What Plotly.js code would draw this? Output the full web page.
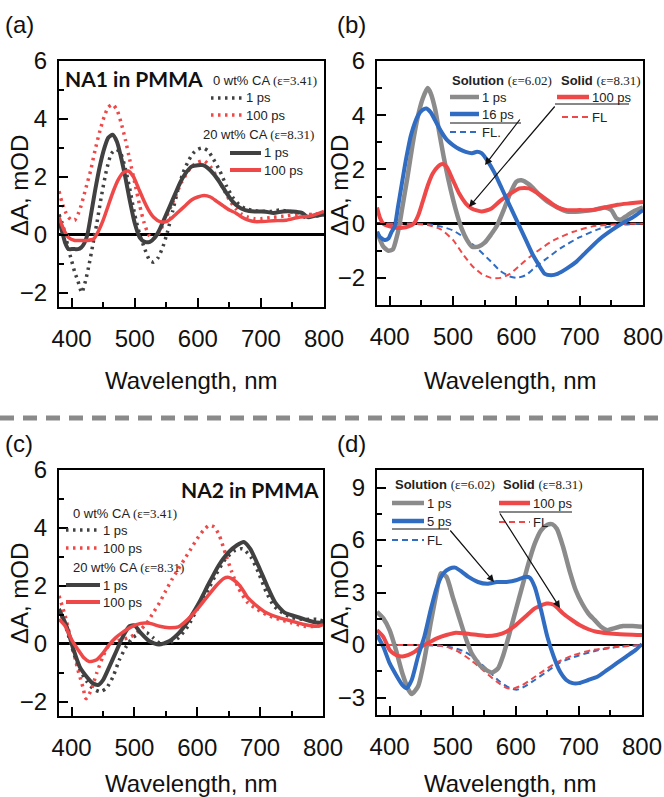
<!DOCTYPE html>
<html><head><meta charset="utf-8">
<script src="https://cdn.plot.ly/plotly-3.0.1.min.js"></script>
<style>html,body{margin:0;padding:0;background:#fff}#chart{width:664px;height:797px}</style>
</head><body><div id="chart"></div>
<script>
// ---------- Panel (a): NA1 in PMMA ----------
const aX_dot1 = [380,385,390,395,400,405,410,416,422,428,434,440,447,455,463,471,478,485,492,500,508,516,524,530,537,545,552,560,568,576,584,592,600,608,616,625,635,645,655,665,675,685,700,715,730,745,760,770,780,790,800];
const aY_dot1 = [0.7,0.4,0.0,-0.5,-0.9,-1.3,-1.6,-2.0,-1.6,-1.0,-0.3,0.4,1.3,2.2,2.8,2.95,2.8,2.3,1.6,0.7,0.0,-0.5,-0.9,-0.95,-0.8,-0.4,0.1,0.8,1.5,2.1,2.5,2.8,2.95,3.0,2.9,2.6,2.2,1.7,1.3,1.05,0.9,0.85,0.8,0.8,0.85,0.8,0.75,0.6,0.7,0.65,0.7];
const aX_dot100 = [380,385,390,395,400,405,410,415,420,425,430,437,445,452,458,465,472,478,485,492,500,508,515,522,528,535,542,550,558,566,574,582,590,600,610,620,630,640,650,660,670,680,690,700,720,740,760,780,800];
const aY_dot100 = [1.5,1.1,0.8,0.6,0.5,0.5,0.7,1.0,1.4,1.8,2.2,2.9,3.6,4.1,4.4,4.5,4.3,3.9,3.3,2.6,1.8,1.0,0.4,0.0,-0.15,-0.05,0.2,0.6,1.0,1.4,1.8,2.1,2.35,2.5,2.55,2.35,2.0,1.6,1.2,0.9,0.7,0.6,0.55,0.55,0.6,0.65,0.7,0.7,0.75];
const aX_sol1 = [380,385,390,395,400,405,410,415,420,425,430,437,445,452,458,465,472,478,485,492,500,508,516,524,532,540,548,556,564,572,580,590,600,608,616,625,635,645,655,665,675,690,705,720,735,750,765,775,785,800];
const aY_sol1 = [0.5,0.1,-0.3,-0.5,-0.5,-0.5,-0.5,-0.45,-0.3,0.0,0.6,1.5,2.4,3.0,3.35,3.45,3.2,2.7,2.0,1.2,0.4,-0.1,-0.25,-0.25,-0.1,0.2,0.6,1.0,1.4,1.8,2.1,2.35,2.4,2.4,2.3,2.1,1.8,1.45,1.15,0.95,0.85,0.8,0.8,0.75,0.8,0.8,0.75,0.6,0.65,0.7];
const aX_sol100 = [380,388,395,405,415,425,435,442,450,458,466,474,482,490,498,506,514,522,530,540,550,560,570,580,590,600,610,620,630,640,650,660,670,680,690,700,720,740,760,780,800];
const aY_sol100 = [0.6,0.15,-0.1,-0.2,-0.2,-0.2,-0.15,0.1,0.5,1.0,1.5,1.9,2.15,2.2,2.0,1.6,1.2,0.85,0.6,0.45,0.45,0.6,0.8,1.0,1.2,1.3,1.35,1.3,1.15,1.0,0.85,0.75,0.6,0.5,0.45,0.45,0.48,0.5,0.6,0.65,0.8];

// ---------- Panel (b): NA1 solution vs solid ----------
const bX_gray = [380,385,390,398,405,410,415,420,428,436,444,452,460,465,472,478,485,492,500,507,514,522,530,540,550,560,570,580,590,600,608,620,635,650,665,680,700,720,740,750,758,765,775,785,800];
const bY_gray = [-0.3,-0.6,-0.85,-1.0,-0.95,-0.6,-0.1,0.6,1.7,2.9,3.9,4.6,5.0,4.8,4.2,3.4,2.5,1.7,0.9,0.3,-0.2,-0.6,-0.85,-0.85,-0.7,-0.4,-0.05,0.5,1.1,1.55,1.6,1.45,1.1,0.8,0.6,0.45,0.45,0.5,0.6,0.5,0.2,0.15,0.3,0.45,0.6];
const bX_blue = [380,385,392,398,403,408,413,418,426,434,445,452,458,465,472,480,490,500,510,520,530,538,545,555,565,575,585,595,605,615,625,635,645,655,665,680,695,710,730,750,770,785,800];
const bY_blue = [-0.3,-0.5,-0.6,-0.55,-0.3,-0.1,0.6,1.3,2.4,3.3,4.0,4.2,4.25,4.1,3.8,3.45,3.1,2.9,2.75,2.65,2.6,2.65,2.6,2.3,1.9,1.4,0.9,0.4,-0.1,-0.6,-1.1,-1.5,-1.85,-1.9,-1.85,-1.65,-1.4,-1.05,-0.6,-0.25,0.05,0.25,0.5];
const bX_red = [380,385,390,400,410,420,430,438,445,452,460,468,476,483,490,500,510,520,530,545,560,575,590,605,620,635,650,665,680,700,720,740,760,780,800];
const bY_red = [0.6,0.2,0.0,-0.1,-0.15,-0.15,-0.1,0.0,0.3,0.8,1.4,1.85,2.1,2.2,2.1,1.6,1.1,0.75,0.55,0.45,0.55,0.85,1.1,1.3,1.3,1.1,0.85,0.6,0.5,0.5,0.5,0.6,0.7,0.75,0.8];
const bX_flB = [380,420,460,480,500,520,540,560,575,590,600,615,630,650,670,700,730,760,800];
const bY_flB = [0,0,-0.02,-0.1,-0.25,-0.55,-0.95,-1.4,-1.75,-1.95,-2.0,-1.9,-1.6,-1.25,-0.9,-0.5,-0.2,-0.05,0];
const bX_flR = [380,420,440,460,480,500,515,530,545,560,575,590,605,620,640,660,690,720,760,800];
const bY_flR = [0,0,-0.01,-0.05,-0.2,-0.6,-1.1,-1.55,-1.85,-2.0,-2.0,-1.85,-1.55,-1.25,-0.9,-0.6,-0.3,-0.1,-0.02,0];

// ---------- Panel (c): NA2 in PMMA ----------
const cX_dot1 = [380,392,403,413,424,434,445,455,466,476,487,497,510,520,530,540,555,570,585,600,615,630,645,660,672,685,697,710,722,735,750,770,790,800];
const cY_dot1 = [1.2,0.5,-0.3,-0.9,-1.3,-1.55,-1.66,-1.55,-1.14,-0.56,-0.1,0.2,0.37,0.37,0.2,0.02,0.02,0.2,0.6,1.2,1.77,2.4,2.93,3.22,3.28,3.0,2.47,1.77,1.3,1.07,0.9,0.84,0.84,0.78];
const cX_dot100 = [380,390,400,410,418,423,430,440,450,460,470,480,490,500,510,520,530,540,550,560,570,580,590,600,610,619,627,635,645,655,665,680,695,710,730,750,770,790,800];
const cY_dot100 = [1.65,0.95,0.02,-0.9,-1.5,-1.9,-1.66,-1.02,-0.44,-0.03,0.08,0.14,0.2,0.31,0.49,0.72,1.07,1.42,1.83,2.23,2.58,2.93,3.28,3.63,3.92,4.09,4.03,3.74,3.1,2.47,1.94,1.42,1.19,1.0,0.84,0.72,0.6,0.6,0.66];
const cX_sol1 = [380,392,403,413,424,434,442,450,460,471,482,492,500,510,524,539,555,571,587,603,618,634,650,663,674,684,697,711,724,739,755,771,787,800];
const cY_sol1 = [1.19,0.6,-0.2,-0.8,-1.14,-1.37,-1.43,-1.26,-0.8,-0.27,0.26,0.6,0.63,0.37,0.08,-0.03,0.08,0.37,0.84,1.42,2.06,2.7,3.16,3.4,3.51,3.28,2.7,2.0,1.42,1.07,0.95,0.84,0.74,0.72];
const cX_sol100 = [380,390,400,410,420,428,440,450,460,470,480,495,510,525,540,555,570,585,600,615,630,642,650,658,668,680,695,710,730,750,770,790,800];
const cY_sol100 = [0.84,0.6,0.14,-0.2,-0.5,-0.62,-0.56,-0.33,-0.03,0.2,0.37,0.58,0.7,0.7,0.6,0.55,0.58,0.84,1.19,1.6,2.0,2.25,2.29,2.2,2.0,1.6,1.3,1.07,0.9,0.78,0.66,0.6,0.66];

// ---------- Panel (d): NA2 solution vs solid ----------
const dX_gray = [380,390,400,410,420,430,435,445,455,465,475,481,490,500,510,520,530,545,562,572,580,590,600,610,620,630,640,650,658,665,675,685,695,705,715,725,735,745,755,770,785,800];
const dY_gray = [1.9,1.52,0.85,-0.28,-1.6,-2.56,-2.8,-2.37,-0.85,1.23,3.13,4.1,3.9,2.75,1.6,0.47,-0.47,-1.23,-1.57,-1.33,-0.6,0.66,2.0,3.32,4.65,5.79,6.55,6.87,6.9,6.64,5.6,4.27,3.13,2.37,1.8,1.42,1.04,0.85,0.95,1.08,1.08,1.04];
const dX_blue = [380,390,400,410,420,427,435,445,455,465,475,485,495,504,515,525,540,555,570,585,600,615,622,630,640,650,660,670,680,690,700,715,730,745,760,775,790,800];
const dY_blue = [0.57,-0.1,-1.04,-1.7,-2.28,-2.47,-2.0,-0.66,0.47,2.0,3.32,4.08,4.36,4.42,4.17,3.89,3.6,3.5,3.6,3.6,3.7,3.89,3.85,3.32,2.0,0.47,-0.66,-1.52,-2.0,-2.18,-2.18,-2.0,-1.8,-1.42,-1.04,-0.66,-0.28,0.05];
const dX_red = [380,390,400,410,420,430,440,450,460,475,490,505,520,540,555,570,585,600,615,630,649,660,675,690,701,715,728,760,800];
const dY_red = [0.85,0.47,-0.28,-0.57,-0.66,-0.57,-0.38,-0.1,0.1,0.38,0.57,0.7,0.66,0.57,0.51,0.57,0.76,1.14,1.61,2.09,2.37,2.3,1.8,1.4,1.14,0.9,0.76,0.63,0.57];
const dX_flB = [380,440,480,500,520,540,560,575,590,602,615,630,650,670,700,730,760,800];
const dY_flB = [0,0,-0.05,-0.15,-0.4,-0.9,-1.6,-2.1,-2.45,-2.55,-2.35,-2.0,-1.5,-1.0,-0.6,-0.3,-0.12,0];
const dX_flR = [380,440,470,490,510,530,550,570,585,595,610,625,645,665,690,720,760,800];
const dY_flR = [0,0,0,-0.1,-0.4,-0.9,-1.5,-2.1,-2.45,-2.5,-2.3,-1.95,-1.45,-1.0,-0.6,-0.3,-0.1,0];

// ---------- Labels ----------
const panelLabels = ['(a)','(b)','(c)','(d)'];
const xTitle = 'Wavelength, nm';
const yTitle = 'ΔA, mOD';

// ---------- Styles ----------
const GRAY_D = '#414141', RED = '#ef4848', GRAY_L = '#8b8b8b', BLUE = '#2f6cc2';
const DOT = '2.5px,4.5px', DASH = '6px,4px';
const W = 664, H = 797;
const fx = x => x / W, fy = y => 1 - y / H;

function tr(x, y, n, color, width, dash) {
  const s = n === 1 ? '' : String(n);
  return {x, y, xaxis: 'x' + s, yaxis: 'y' + s, mode: 'lines', hoverinfo: 'skip', showlegend: false,
    line: {color, width, dash: dash || 'solid', shape: 'spline', smoothing: 0.6}};
}

const data = [
  tr(aX_dot1, aY_dot1, 1, GRAY_D, 3.5, DOT),
  tr(aX_dot100, aY_dot100, 1, RED, 3.5, DOT),
  tr(aX_sol1, aY_sol1, 1, GRAY_D, 4),
  tr(aX_sol100, aY_sol100, 1, RED, 3.5),

  tr(bX_flB, bY_flB, 2, BLUE, 2, DASH),
  tr(bX_flR, bY_flR, 2, RED, 2, DASH),
  tr(bX_gray, bY_gray, 2, GRAY_L, 4.5),
  tr(bX_red, bY_red, 2, RED, 4),
  tr(bX_blue, bY_blue, 2, BLUE, 4),

  tr(cX_dot1, cY_dot1, 3, GRAY_D, 3.5, DOT),
  tr(cX_dot100, cY_dot100, 3, RED, 3.5, DOT),
  tr(cX_sol1, cY_sol1, 3, GRAY_D, 4),
  tr(cX_sol100, cY_sol100, 3, RED, 3.5),

  tr(dX_flB, dY_flB, 4, BLUE, 2, DASH),
  tr(dX_flR, dY_flR, 4, RED, 2, DASH),
  tr(dX_gray, dY_gray, 4, GRAY_L, 4.5),
  tr(dX_red, dY_red, 4, RED, 4),
  tr(dX_blue, dY_blue, 4, BLUE, 4)
];

const tickFont = {family: 'Liberation Sans, Arial, sans-serif', size: 24, color: '#111'};
function xax(px0, px1) {
  return {domain: [fx(px0), fx(px1)], range: [380, 800], tickmode: 'linear', tick0: 400, dtick: 100,
    ticks: 'inside', ticklen: 9, tickwidth: 2, tickcolor: '#000', showline: true, linewidth: 2, linecolor: '#000',
    mirror: true, showgrid: false, zeroline: false, tickfont: tickFont, ticklabelstandoff: 9, fixedrange: true,
    minor: {tick0: 400, dtick: 50, ticks: 'inside', ticklen: 5, tickwidth: 2, tickcolor: '#000', showgrid: false}};
}
function yax(py0, py1, range, dtick, mdtick) {
  return {domain: [fy(py1), fy(py0)], range, tickmode: 'linear', tick0: 0, dtick,
    ticks: 'inside', ticklen: 9, tickwidth: 2, tickcolor: '#000', showline: true, linewidth: 2, linecolor: '#000',
    mirror: true, showgrid: false, zeroline: true, zerolinecolor: '#000', zerolinewidth: 2.5,
    tickfont: tickFont, ticklabelstandoff: 5, fixedrange: true,
    minor: {tick0: 0, dtick: mdtick, ticks: 'inside', ticklen: 5, tickwidth: 2, tickcolor: '#000', showgrid: false}};
}

const shapes = [], annotations = [];
const LF = 'Liberation Sans, Arial, sans-serif';
function seg(x0, y0, x1, y1, color, width, dash) {
  shapes.push({type: 'line', xref: 'paper', yref: 'paper', x0: fx(x0), y0: fy(y0), x1: fx(x1), y1: fy(y1),
    line: {color, width, dash: dash || 'solid'}});
}
function txt(x, y, text, opts) {
  annotations.push(Object.assign({xref: 'paper', yref: 'paper', x: fx(x), y: fy(y), text, showarrow: false,
    xanchor: 'left', yanchor: 'middle', borderpad: 0, font: {family: LF, size: 13, color: '#222'}}, opts || {}));
}
function arrow(x0, y0, x1, y1) {
  annotations.push({xref: 'paper', yref: 'paper', x: fx(x1), y: fy(y1), ax: x0 - x1, ay: y0 - y1, text: '',
    showarrow: true, arrowhead: 2, arrowsize: 1.2, arrowwidth: 1.2, arrowcolor: '#111', standoff: 0});
}
const serif = s => '<span style="font-family:Liberation Serif">' + s + '</span>';

// separator
seg(0, 418, 664, 418, '#8a8a8a', 5, '14px,9px');

// panel labels
const big = {family: LF, size: 24, color: '#111'};
txt(4, 24, panelLabels[0], {font: big});
txt(336, 24, panelLabels[1], {font: big});
txt(4, 443, panelLabels[2], {font: big});
txt(336, 443, panelLabels[3], {font: big});

// axis titles
[[191, 380], [510, 380], [191, 783], [510, 783]].forEach(p => txt(p[0], p[1], xTitle, {xanchor: 'center', font: big}));
[[19, 186], [339, 186], [19, 594], [339, 594]].forEach(p => txt(p[0], p[1], yTitle, {xanchor: 'center', textangle: -90, font: big}));

// ---- legend (a)
const boldT = {family: 'Lato, Open Sans, sans-serif', size: 21, color: '#111'};
txt(64, 79, '<b>NA1 in PMMA</b>', {font: boldT});
txt(212, 80, '0 wt% CA ' + serif('(ε=3.41)'));
seg(211, 98, 243, 98, GRAY_D, 3.5, DOT); txt(245, 98, '1 ps');
seg(211, 115, 243, 115, RED, 3.5, DOT); txt(245, 115, '100 ps');
txt(202, 134, '20 wt% CA ' + serif('(ε=8.31)'));
seg(230, 153, 261, 153, GRAY_D, 4); txt(263, 153, '1 ps');
seg(230, 170, 261, 170, RED, 4); txt(263, 170, '100 ps');

// ---- legend (c)
txt(180, 489, '<b>NA2 in PMMA</b>', {font: boldT});
txt(72, 513, '0 wt% CA ' + serif('(ε=3.41)'));
seg(66, 530, 100, 530, GRAY_D, 3.5, DOT); txt(102, 530, '1 ps');
seg(66, 548, 100, 548, RED, 3.5, DOT); txt(102, 548, '100 ps');
txt(72, 567, '20 wt% CA ' + serif('(ε=8.31)'));
seg(66, 585, 100, 585, GRAY_D, 4); txt(102, 585, '1 ps');
seg(66, 602, 100, 602, RED, 4); txt(102, 602, '100 ps');

// ---- legend (b)
txt(451, 80, '<b>Solution</b> ' + serif('(ε=6.02)'));
txt(560, 80, '<b>Solid</b> ' + serif('(ε=8.31)'));
seg(450, 97, 479, 97, GRAY_L, 4.5); txt(481, 97, '1 ps');
seg(450, 114, 479, 114, BLUE, 4.5); txt(481, 114, '16 ps');
seg(450, 123, 521, 123, '#111', 1);
seg(450, 132, 479, 132, BLUE, 2, DASH); txt(481, 132, 'FL.');
seg(557, 97, 589, 97, RED, 4.5); txt(591, 97, '100 ps');
seg(555, 104, 629, 104, '#111', 1);
seg(562, 117, 589, 117, RED, 2, DASH); txt(591, 117, 'FL');
arrow(521, 118, 485, 165);
arrow(556, 105, 469, 207);

// ---- legend (d)
txt(394, 485, '<b>Solution</b> ' + serif('(ε=6.02)'));
txt(502, 485, '<b>Solid</b> ' + serif('(ε=8.31)'));
seg(392, 503, 424, 503, GRAY_L, 4.5); txt(426, 503, '1 ps');
seg(392, 521, 424, 521, BLUE, 4.5); txt(426, 521, '5 ps');
seg(392, 529, 449, 529, '#111', 1);
seg(392, 540, 424, 540, BLUE, 2, DASH); txt(426, 540, 'FL');
seg(499, 503, 530, 503, RED, 4.5); txt(532, 503, '100 ps');
seg(499, 512, 572, 512, '#111', 1);
seg(499, 522, 530, 522, RED, 2, DASH); txt(532, 522, 'FL');
arrow(449, 529, 494, 582);
arrow(499, 512, 560, 608);

const layout = {
  width: W, height: H, margin: {l: 0, r: 0, t: 0, b: 0}, paper_bgcolor: '#fff', plot_bgcolor: '#fff',
  showlegend: false,
  xaxis: xax(59, 324), yaxis: yax(61, 307, [-2.5, 6], 2, 1),
  xaxis2: xax(377, 643), yaxis2: yax(61, 305, [-3, 6], 2, 1),
  xaxis3: xax(59, 323), yaxis3: yax(470, 716, [-2.5, 6], 2, 1),
  xaxis4: xax(377, 642), yaxis4: yax(470, 715, [-4, 10], 3, 1.5),
  shapes, annotations
};
layout.xaxis.anchor = 'y'; layout.yaxis.anchor = 'x';
layout.xaxis2.anchor = 'y2'; layout.yaxis2.anchor = 'x2';
layout.xaxis3.anchor = 'y3'; layout.yaxis3.anchor = 'x3';
layout.xaxis4.anchor = 'y4'; layout.yaxis4.anchor = 'x4';

Plotly.newPlot('chart', data, layout, {staticPlot: true, displayModeBar: false});
</script>
</body></html>
